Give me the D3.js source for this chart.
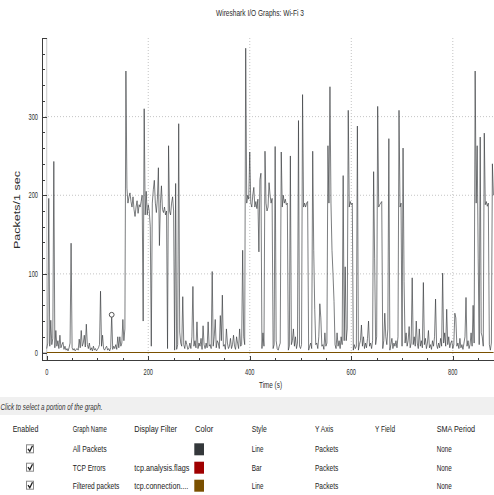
<!DOCTYPE html>
<html><head><meta charset="utf-8">
<script src="https://cdn.jsdelivr.net/npm/d3@7"></script>
<style>
html,body{margin:0;padding:0;background:#fff;overflow:hidden}
svg{display:block}
text{font-family:"Liberation Sans",Arial,sans-serif;}
</style></head><body>
<svg id="c" width="494" height="495"></svg>
<script>
const title = "Wireshark I/O Graphs: Wi-Fi 3";
const xLabel = "Time (s)";
const yLabel = "Packets/1 sec";
const hint = "Click to select a portion of the graph.";
const xTicks = [0, 200, 400, 600, 800];
const yTicks = [0, 100, 200, 300];
const stepSec = 2; // one value per 2 seconds
const allPackets = [
 5,12,196,8,41,10,18,243,6,28,
 8,15,5,22,6,10,13,4,8,3,
 5,2,6,12,139,6,3,5,2,4,
 5,3,17,6,28,8,12,22,7,36,
 10,5,12,3,6,2,8,3,5,2,
 4,6,10,78,8,22,5,3,6,8,
 3,5,2,6,48,4,8,5,10,4,
 20,6,20,8,12,42,15,30,358,209,
 190,198,203,192,185,198,182,173,185,193,
 177,188,185,192,200,40,310,175,205,175,
 188,180,160,8,190,207,219,190,178,195,
 235,136,190,212,182,178,185,175,180,5,
 263,180,175,190,198,180,3,215,4,10,
 291,26,12,8,71,10,5,15,10,4,
 6,12,5,20,84,8,15,6,39,5,
 12,8,18,4,34,10,5,12,6,39,
 8,10,5,103,8,20,42,6,15,12,
 5,47,15,73,8,10,4,30,12,5,
 8,18,5,10,22,8,4,20,12,5,
 30,8,10,130,20,10,387,190,200,195,
 255,190,185,200,210,185,192,183,195,128,
 220,228,5,25,8,256,190,180,185,216,
 200,190,196,5,10,262,15,5,3,8,
 12,255,185,200,190,195,188,190,3,8,
 250,10,15,30,8,20,5,12,295,8,
 5,10,328,185,190,185,190,192,3,8,
 12,5,256,130,55,10,12,5,20,62,
 44,8,10,4,25,8,12,263,190,338,
 190,130,100,65,10,5,25,8,15,5,
 20,10,225,15,109,15,30,308,185,192,
 188,190,3,10,5,8,288,3,10,15,
 35,8,20,5,12,6,18,40,8,12,
 5,15,230,120,10,20,313,185,188,190,
 192,5,15,50,20,10,30,272,3,10,
 18,5,12,8,15,6,20,308,185,190,
 8,260,90,12,25,8,15,33,6,12,
 95,10,20,8,40,12,5,30,8,15,
 6,89,10,18,5,12,28,6,10,4,
 15,8,20,68,10,5,12,6,18,8,
 101,12,25,8,55,10,20,6,12,15,
 5,10,50,44,8,12,5,18,6,10,
 4,12,20,70,8,15,5,10,25,8,
 60,12,358,190,263,120,10,274,25,20,
 8,279,188,192,186,190,10,3,12,240,
 200];
const tcpErrorTimes = [];   // no error bars visible
const tcpErrorValues = [];
const filteredTimes = [0, 880];
const filteredValues = [0, 0];
const markerTime = 128, markerValue = 48;

const headers = ["Enabled","Graph Name","Display Filter","Color","Style","Y Axis","Y Field","SMA Period"];
const graphNames = ["All Packets","TCP Errors","Filtered packets"];
const displayFilters = ["","tcp.analysis.flags","tcp.connection...."];
const graphColors = ["#34383b","#a00000","#7a5000"];
const graphStyles = ["Line","Bar","Line"];
const yAxes = ["Packets","Packets","Packets"];
const smaPeriods = ["None","None","None"];

const svg = d3.select("#c");
const x = d3.scaleLinear().domain([-9.3, 891]).range([42, 499]);
const y = d3.scaleLinear().domain([-10.8, 400]).range([361, 38]);

function txt(g, px, py, s, o = {}) {
  const t = g.append("text").attr("x", px).attr("y", py).text(s)
    .attr("font-size", o.size || 9).attr("fill", o.color || "#2b2b2b")
    .attr("text-anchor", o.anchor || "start");
  if (o.italic) t.attr("font-style", "italic");
  if (o.rotate) t.attr("transform", `rotate(${o.rotate},${px},${py})`);
  const w = o.width != null ? o.width : t.node().getComputedTextLength() * (o.k || 0.63);
  t.attr("textLength", w).attr("lengthAdjust", "spacingAndGlyphs");
  return t;
}

// title
txt(svg, 260, 16, title, {size: 9.5, anchor: "middle", width: 88});

// clip
svg.append("defs").append("clipPath").attr("id", "pc").append("rect")
  .attr("x", 42).attr("y", 38).attr("width", 457).attr("height", 323);
const plot = svg.append("g").attr("clip-path", "url(#pc)");

// grid
plot.selectAll(".gx").data(xTicks.filter(d => d !== 0)).join("line")
  .attr("x1", d => x(d)).attr("x2", d => x(d)).attr("y1", 38).attr("y2", 361)
  .attr("stroke", "#c4c4c4").attr("stroke-width", 1).attr("stroke-dasharray", "1,2");
plot.selectAll(".gy").data(yTicks.filter(d => d !== 0)).join("line")
  .attr("y1", d => y(d)).attr("y2", d => y(d)).attr("x1", 42).attr("x2", 499)
  .attr("stroke", "#c4c4c4").attr("stroke-width", 1).attr("stroke-dasharray", "1,2");
// zero lines
plot.append("line").attr("x1", x(0)).attr("x2", x(0)).attr("y1", 38).attr("y2", 361)
  .attr("stroke", "#c8c8c8").attr("stroke-width", 1);
plot.append("line").attr("x1", 42).attr("x2", 499).attr("y1", y(0)).attr("y2", y(0))
  .attr("stroke", "#c8c8c8").attr("stroke-width", 1);

// All packets line
const line = d3.line().x((d, i) => x(i * stepSec)).y(d => y(d));
plot.append("path").datum(allPackets).attr("d", line)
  .attr("fill", "none").attr("stroke", graphColors[0]).attr("stroke-width", 0.9)
  .attr("stroke-linejoin", "round").attr("stroke-opacity", 0.72);

// TCP error bars
plot.selectAll(".eb").data(tcpErrorTimes).join("rect")
  .attr("x", d => x(d) - 0.5).attr("width", 1)
  .attr("y", (d, i) => y(tcpErrorValues[i])).attr("height", (d, i) => y(0) - y(tcpErrorValues[i]))
  .attr("fill", graphColors[1]);

// Filtered packets line
const fline = d3.line().x((d, i) => x(filteredTimes[i])).y(d => y(d));
plot.append("path").datum(filteredValues).attr("d", fline)
  .attr("fill", "none").attr("stroke", graphColors[2]).attr("stroke-width", 1);

// marker
plot.append("circle").attr("cx", x(markerTime)).attr("cy", y(markerValue)).attr("r", 2.4)
  .attr("fill", "#fff").attr("stroke", "#555").attr("stroke-width", 1);

// axes
const axc = "#3c3c3c";
svg.append("line").attr("x1", 42.5).attr("x2", 42.5).attr("y1", 38).attr("y2", 361).attr("stroke", axc);
svg.append("line").attr("x1", 42).attr("x2", 499).attr("y1", 360.5).attr("y2", 360.5).attr("stroke", axc);
// y ticks
const yMinor = d3.range(20, 401, 20).filter(v => v % 100 !== 0);
svg.selectAll(".ymn").data(yMinor).join("line")
  .attr("x1", 42).attr("x2", 45).attr("y1", d => Math.round(y(d)) + 0.5).attr("y2", d => Math.round(y(d)) + 0.5)
  .attr("stroke", axc);
svg.selectAll(".ymj").data(yTicks.concat([400])).join("line")
  .attr("x1", 42).attr("x2", 47).attr("y1", d => Math.round(y(d)) + 0.5).attr("y2", d => Math.round(y(d)) + 0.5)
  .attr("stroke", axc);
yTicks.forEach(v => txt(svg, 38, y(v) + 3, String(v), {size: 9, anchor: "end"}));
// x ticks
const xMinor = d3.range(50, 891, 50).filter(v => v % 200 !== 0);
svg.selectAll(".xmn").data(xMinor).join("line")
  .attr("x1", d => Math.round(x(d)) + 0.5).attr("x2", d => Math.round(x(d)) + 0.5).attr("y1", 361).attr("y2", 358)
  .attr("stroke", axc);
svg.selectAll(".xmj").data(xTicks).join("line")
  .attr("x1", d => Math.round(x(d)) + 0.5).attr("x2", d => Math.round(x(d)) + 0.5).attr("y1", 361).attr("y2", 356)
  .attr("stroke", axc);
xTicks.forEach(v => txt(svg, x(v), 375, String(v), {size: 9, anchor: "middle"}));
txt(svg, 270.5, 388, xLabel, {size: 9.5, anchor: "middle", width: 23});
txt(svg, 19.5, 210, yLabel, {size: 8.5, anchor: "middle", rotate: -90, width: 78});

// hint bar
svg.append("rect").attr("x", 0).attr("y", 397).attr("width", 494).attr("height", 18).attr("fill", "#f0f0f0");
txt(svg, 0.5, 410, hint, {size: 8.5, italic: true, width: 102, color: "#333"});

// table
const colX = [12.7, 72.7, 134.3, 195, 251.7, 315, 375, 436.7];
const headW = [25.7, 34, 42.7, 18.3, 15, 18.3, 20, 38.3];
headers.forEach((h, i) => txt(svg, colX[i], 431.5, h, {size: 9, width: headW[i], color: "#222"}));
const rowY = [449.3, 467.7, 485.7];
const nameW = [34, 33, 46.7];
const filtW = [0, 55, 54];
const styleW = [11.7, 10, 11.7];
graphNames.forEach((n, r) => {
  const cy = rowY[r];
  svg.append("rect").attr("x", 26.5).attr("y", cy - 4.5).attr("width", 7).attr("height", 8)
    .attr("fill", "#fff").attr("stroke", "#8a8a8a").attr("stroke-width", 1);
  svg.append("path").attr("d", `M28,${cy - 0.5} L29.8,${cy + 2} L32.5,${cy - 3.5}`)
    .attr("fill", "none").attr("stroke", "#1e1e1e").attr("stroke-width", 1.3);
  txt(svg, colX[1], cy + 3, n, {size: 9, width: nameW[r], color: "#222"});
  if (displayFilters[r]) txt(svg, colX[2], cy + 3, displayFilters[r], {size: 9, width: filtW[r], color: "#222"});
  svg.append("rect").attr("x", 194.3).attr("y", cy - 6).attr("width", 9.7).attr("height", 12).attr("fill", graphColors[r]);
  txt(svg, colX[4], cy + 3, graphStyles[r], {size: 9, width: styleW[r], color: "#222"});
  txt(svg, colX[5], cy + 3, yAxes[r], {size: 9, width: 23.3, color: "#222"});
  txt(svg, colX[7], cy + 3, smaPeriods[r], {size: 9, width: 15, color: "#222"});
});
</script>
</body></html>
